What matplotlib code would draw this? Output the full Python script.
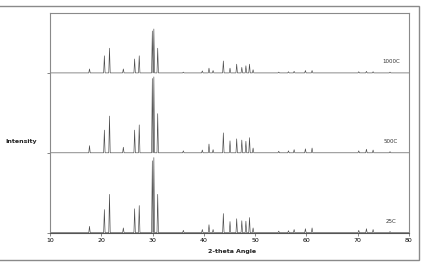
import matplotlib
matplotlib.use("Agg")
import matplotlib.pyplot as plt
from matplotlib.patches import Rectangle

# peak positions (2-theta, deg) and heights
pos = [17.7, 20.6, 21.6, 24.3, 26.5, 27.4, 29.95, 30.25, 31.0, 36.0, 39.7,
       41.0, 41.8, 43.8, 45.1, 46.4, 47.4, 48.2, 48.9, 49.6, 54.6, 56.5,
       57.6, 59.8, 61.1, 70.2, 71.7, 73.0, 76.3]
h_25 = [80, 290, 480, 60, 300, 340, 900, 940, 480, 30, 40,
        100, 40, 240, 140, 175, 150, 145, 190, 60, 20, 25,
        40, 50, 60, 30, 50, 40, 15]
h_500 = [90, 285, 460, 70, 285, 350, 930, 950, 490, 25, 35,
         110, 40, 250, 150, 175, 160, 145, 190, 60, 20, 25,
         40, 50, 60, 25, 45, 35, 15]
h_1000 = [50, 215, 310, 50, 175, 215, 525, 550, 310, 10, 25,
          60, 30, 150, 60, 110, 70, 90, 110, 40, 10, 15,
          20, 30, 30, 15, 20, 15, 10]
labels = ["25C", "500C", "1000C"]
offsets = [0, 1000, 2000]


def pattern(heights, offset):
    xs, ys = [10.0], [offset]
    for p, h in zip(pos, heights):
        xs += [p - 0.14, p, p + 0.14]
        ys += [offset, offset + h, offset]
    xs.append(80.0)
    ys.append(offset)
    return xs, ys


fig = plt.figure(figsize=(4.21, 2.62), dpi=100)
fig.patches.append(Rectangle((-0.05, 2 / 262), 419 / 421 + 0.05, 254 / 262,
                             transform=fig.transFigure, fill=False,
                             edgecolor="#8a8a8a", linewidth=1.0))
ax = fig.add_axes([50 / 421, 29.3 / 262, 359 / 421, 219.7 / 262])

for heights, off, lab in zip([h_25, h_500, h_1000], offsets, labels):
    x, y = pattern(heights, off)
    ax.plot(x, y, color="#4a4a4a", linewidth=0.45)
    ax.text(76.5, off + 110, lab, fontsize=4, ha="center", va="bottom",
            color="#333333")

ax.set_xlim(10, 80)
ax.set_ylim(0, 2750)
ax.set_xticks(range(10, 81, 10))
ax.set_yticks(offsets)
ax.set_yticklabels([])
ax.tick_params(axis="both", direction="out", length=2, width=0.5,
               color="#555555", labelsize=4.5, pad=2)
for s in ax.spines.values():
    s.set_color("#8a8a8a")
    s.set_linewidth(0.8)
ax.spines["bottom"].set_color("#555555")

fig.text(232 / 421, 1 - 252 / 262, "2-theta Angle", fontsize=4.5,
         fontweight="bold", ha="center", va="center", color="#222222")
fig.text(21 / 421, 1 - 142 / 262, "Intensity", fontsize=4.5,
         fontweight="bold", ha="center", va="center", color="#222222")

fig.savefig("out.png", dpi=100)
